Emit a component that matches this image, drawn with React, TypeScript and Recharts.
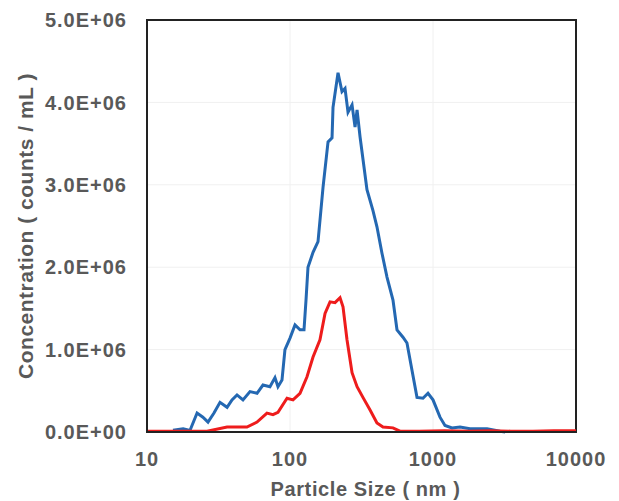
import {
  CartesianGrid,
  Line,
  LineChart,
  ReferenceArea,
  XAxis,
  YAxis,
} from "recharts";

// particle size (nm) and concentration (counts / mL)
const blueSize = [
  15.2, 17.9, 20.0, 22.4, 24.6, 26.7, 29.4, 32.4, 36.3, 39.3, 42.6, 46.9, 52.5,
  58.8, 64.7, 72.4, 78.5, 82.4, 87.9, 92.2, 100, 108.4, 117.5, 125.3, 129.4,
  133.6, 144.9, 157, 170.2, 184.5, 196.8, 199.9, 216.7, 231, 242.5, 254.5,
  271.6, 285, 294.4, 309, 345.4, 380, 405.6, 439.7, 476.7, 525, 560, 616.6,
  657.7, 712.9, 772.7, 851, 922.5, 1000, 1119, 1213, 1358, 1545, 1815, 2387,
  2943, 3200,
];
const blueConc = [
  0.02e6, 0.04e6, 0.02e6, 0.23e6, 0.18e6, 0.12e6, 0.23e6, 0.36e6, 0.3e6,
  0.39e6, 0.45e6, 0.39e6, 0.49e6, 0.47e6, 0.57e6, 0.55e6, 0.66e6, 0.55e6,
  0.63e6, 1.0e6, 1.14e6, 1.3e6, 1.24e6, 1.24e6, 1.6e6, 2.0e6, 2.18e6, 2.31e6,
  2.97e6, 3.52e6, 3.57e6, 3.94e6, 4.36e6, 4.13e6, 4.17e6, 3.88e6, 3.97e6,
  3.7e6, 3.91e6, 3.58e6, 2.94e6, 2.69e6, 2.49e6, 2.17e6, 1.88e6, 1.6e6,
  1.24e6, 1.15e6, 1.08e6, 0.75e6, 0.42e6, 0.41e6, 0.47e6, 0.39e6, 0.18e6,
  0.08e6, 0.05e6, 0.06e6, 0.04e6, 0.04e6, 0.01e6, 0.0,
];

const redSize = [
  10, 26.3, 36.3, 50, 58.8, 69, 76, 82.4, 95.3, 105, 117.5, 131.5, 144.9, 162,
  175.8, 190.5, 206.5, 223.8, 234.8, 250.4, 271.6, 294.4, 323.6, 362.2, 405.6,
  446.7, 525, 587.5, 800, 1200, 1800, 2500, 3500, 5000, 7000, 10000,
];
const redConc = [
  0.01e6, 0.01e6, 0.06e6, 0.06e6, 0.12e6, 0.23e6, 0.21e6, 0.24e6, 0.41e6,
  0.39e6, 0.47e6, 0.67e6, 0.91e6, 1.12e6, 1.44e6, 1.58e6, 1.57e6, 1.63e6,
  1.52e6, 1.12e6, 0.72e6, 0.55e6, 0.42e6, 0.27e6, 0.11e6, 0.06e6, 0.05e6,
  0.01e6, 0.01e6, 0.015e6, 0.01e6, 0.015e6, 0.01e6, 0.01e6, 0.015e6, 0.015e6,
];

const xTicks = [10, 100, 1000, 10000];
const yTicks = [0, 1e6, 2e6, 3e6, 4e6, 5e6];

const blueData = blueSize.map((size, i) => ({ size, conc: blueConc[i] }));
const redData = redSize.map((size, i) => ({ size, conc: redConc[i] }));

const TEXT = "#595959";
const FONT = "'Liberation Sans', Arial, sans-serif";

// 4000000 -> "4.0E+06"
const sci = (v: number) => {
  if (v === 0) return "0.0E+00";
  const e = Math.floor(Math.log10(v));
  const m = v / Math.pow(10, e);
  return `${m.toFixed(1)}E+${String(e).padStart(2, "0")}`;
};

const tickStyle = {
  fill: TEXT,
  fontSize: 20,
  fontWeight: 700,
  fontFamily: FONT,
  letterSpacing: 1,
};

const App = () => {
  return (
    <div style={{ position: "absolute", left: 0, top: 0, background: "#fff" }}>
      <LineChart
        width={619}
        height={501}
        margin={{ top: 20, right: 43, left: 0, bottom: 0 }}
      >
        <CartesianGrid stroke="#f0f0f0" strokeWidth={1} />
        <XAxis
          dataKey="size"
          type="number"
          scale="log"
          domain={[10, 10000]}
          ticks={xTicks}
          allowDataOverflow
          height={69}
          tickLine={false}
          tickMargin={14}
          axisLine={{ stroke: "#222", strokeWidth: 2 }}
          tick={tickStyle}
          label={{
            value: "Particle Size ( nm )",
            position: "insideBottom",
            offset: 5,
            dx: 4,
            style: { ...tickStyle, fontSize: 20, letterSpacing: 0.6 },
          }}
        />
        <YAxis
          type="number"
          domain={[0, 5e6]}
          ticks={yTicks}
          width={147}
          tickLine={false}
          tickMargin={14}
          tickFormatter={sci}
          axisLine={{ stroke: "#222", strokeWidth: 2 }}
          tick={tickStyle}
          label={{
            value: "Concentration ( counts / mL )",
            angle: -90,
            position: "insideLeft",
            offset: 26,
            style: {
              ...tickStyle,
              fontSize: 21,
              letterSpacing: 0.5,
              textAnchor: "middle",
            },
          }}
        />
        <ReferenceArea
          x1={10}
          x2={10000}
          y1={0}
          y2={5e6}
          fill="none"
          stroke="#222"
          strokeWidth={2}
        />
        <Line
          data={blueData}
          dataKey="conc"
          type="linear"
          stroke="#2468b2"
          strokeWidth={3}
          dot={false}
          isAnimationActive={false}
        />
        <Line
          data={redData}
          dataKey="conc"
          type="linear"
          stroke="#ee1c1c"
          strokeWidth={3}
          dot={false}
          isAnimationActive={false}
        />
      </LineChart>
    </div>
  );
};

export default App;
